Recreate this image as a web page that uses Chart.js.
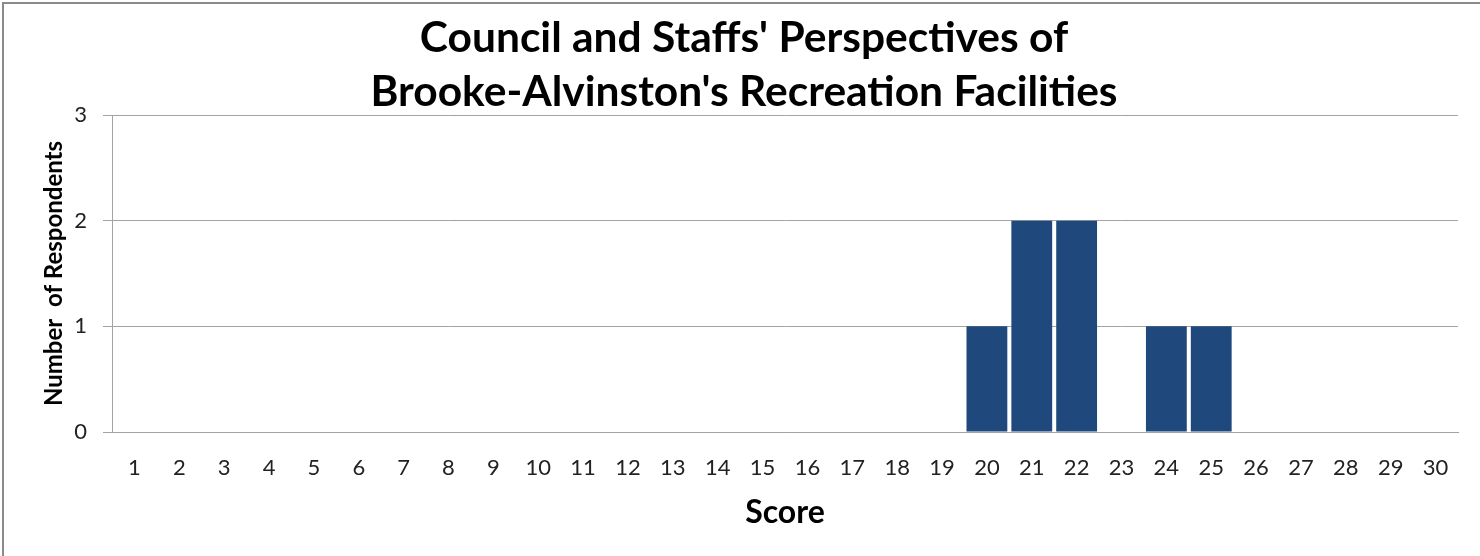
<!DOCTYPE html>
<html>
<head>
<meta charset="utf-8">
<title>Council and Staffs' Perspectives</title>
<script src="https://cdn.jsdelivr.net/npm/chart.js@4/dist/chart.umd.min.js"></script>
<style>
  html, body { margin: 0; padding: 0; background: #fff; }
  #wrap { position: relative; width: 1480px; height: 556px; overflow: hidden; }
  #chart { position: absolute; left: 0; top: 0; }
  #frame {
    position: absolute; left: 2px; top: 2px; right: -4px; bottom: -4px;
    border-top: 2px solid #8a8a8a; border-left: 2px solid #8a8a8a;
    pointer-events: none;
  }
</style>
</head>
<body>
<div id="wrap">
  <canvas id="chart" width="1480" height="556"></canvas>
  <div id="frame"></div>
</div>
<script>
// Datos del histograma: puntuacion y numero de encuestados.
const scoreLabels = ['1', '2', '3', '4', '5', '6', '7', '8', '9', '10',
  '11', '12', '13', '14', '15', '16', '17', '18', '19', '20',
  '21', '22', '23', '24', '25', '26', '27', '28', '29', '30'];
const respondents = [0, 0, 0, 0, 0, 0, 0, 0, 0, 0,
  0, 0, 0, 0, 0, 0, 0, 0, 0, 1,
  2, 2, 0, 1, 1, 0, 0, 0, 0, 0];
const yTicks = [0, 1, 2, 3];
const titleLines = ["Council and Staffs' Perspectives of", "Brooke-Alvinston's Recreation Facilities"];

const fontFamily = 'Lato, "Liberation Sans", sans-serif';
const gridGray = '#a3a3a3';

// El titulo del original va centrado en el lienzo, no en la zona util.
const titleShiftPlugin = {
  id: 'titleShift',
  afterLayout(chart) {
    if (!chart.titleBlock) return;
    chart.titleBlock.left += 13;
    chart.titleBlock.right += 13;
  }
};

new Chart(document.getElementById('chart'), {
  type: 'bar',
  data: {
    labels: scoreLabels,
    datasets: [{
      data: respondents,
      backgroundColor: '#1f497d',
      borderWidth: 0,
      barPercentage: 0.91,
      categoryPercentage: 1.0
    }]
  },
  plugins: [titleShiftPlugin],
  options: {
    responsive: false,
    animation: false,
    layout: { padding: { left: 4, top: 0, right: 22, bottom: 0 } },
    plugins: {
      legend: { display: false },
      tooltip: { enabled: false },
      title: {
        display: true,
        text: titleLines,
        color: '#000',
        font: { family: fontFamily, size: 42.5, weight: 'bold', lineHeight: '54px' },
        padding: { top: 11, bottom: -4 }
      }
    },
    scales: {
      x: {
        grid: { display: false, drawTicks: false },
        border: { display: true, color: gridGray, width: 1 },
        ticks: { color: '#222', padding: 23, font: { family: fontFamily, size: 22 }, maxRotation: 0, autoSkip: false },
        title: {
          display: true,
          text: 'Score',
          color: '#000',
          font: { family: fontFamily, size: 32, weight: 'bold' },
          padding: { top: 0, bottom: 24 }
        },
        afterFit(scale) { scale.height = 124; }
      },
      y: {
        min: 0,
        max: 3,
        afterBuildTicks(scale) { scale.ticks = yTicks.map((v) => ({ value: v })); },
        grid: { color: gridGray, tickColor: gridGray, drawTicks: true, tickLength: 9, lineWidth: 1 },
        border: { display: true, color: gridGray, width: 1 },
        ticks: { color: '#222', padding: 16, font: { family: fontFamily, size: 22 } },
        title: {
          display: true,
          text: 'Number  of Respondents',
          color: '#000',
          font: { family: fontFamily, size: 24, weight: 'bold' },
          padding: { top: 36, bottom: 0 }
        },
        afterFit(scale) { scale.width = 108; }
      }
    }
  }
});
</script>
</body>
</html>
